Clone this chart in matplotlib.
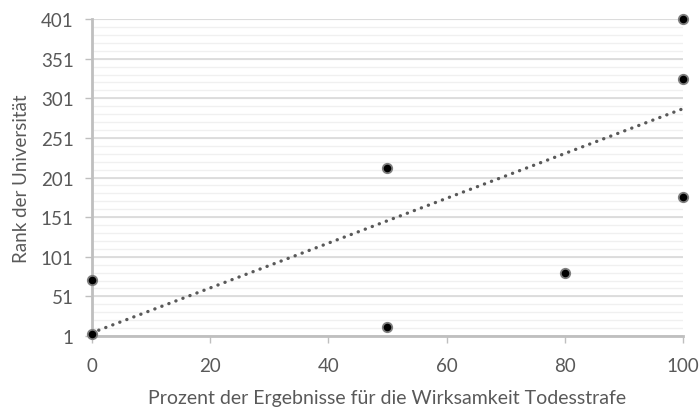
import numpy as np
import matplotlib.pyplot as plt

plt.rcParams['font.family'] = ['Lato', 'DejaVu Sans']

# data
prozent = [0, 0, 50, 50, 80, 100, 100, 100]
rang = [4, 72, 213, 12, 80, 401, 325, 176]
trend_intercept = 5.0
trend_slope = 2.83

x_ticks = [0, 20, 40, 60, 80, 100]
y_ticks = [1, 51, 101, 151, 201, 251, 301, 351, 401]

fig = plt.figure(figsize=(7, 4.1), dpi=100)
ax = fig.add_axes([0.131, 0.178, 0.845, 0.773])

# minor grid every 10, major every 50
for v in np.arange(1, 402, 10):
    ax.axhline(v, color='#f0f0f0', lw=1, zorder=0)
for v in y_ticks:
    ax.axhline(v, color='#d9d9d9', lw=1.2, zorder=1)

tx = np.array([0, 100])
ax.plot(tx, trend_intercept + trend_slope * tx, color='#595959', lw=2.4,
        linestyle=(0, (0.05, 2.2)), dash_capstyle='round', zorder=2)

ax.scatter(prozent, rang, s=46, c='black', edgecolors='#7f7f7f', linewidths=1.3,
           zorder=3, clip_on=False)

ax.set_xlim(0, 100)
ax.set_ylim(1, 401)
ax.set_xticks(x_ticks)
ax.set_yticks(y_ticks)

for s in ['top', 'right']:
    ax.spines[s].set_visible(False)
for s in ['left', 'bottom']:
    ax.spines[s].set_color('#bfbfbf')
    ax.spines[s].set_linewidth(2)

ax.tick_params(axis='both', colors='#bfbfbf', labelcolor='#595959', labelsize=13.5,
               length=5, width=1)
ax.tick_params(axis='x', pad=10)
ax.tick_params(axis='y', pad=8)

ax.set_xlabel('Prozent der Ergebnisse für die Wirksamkeit Todesstrafe',
              color='#595959', fontsize=14, labelpad=11)
ax.set_ylabel('Rank der Universität', color='#595959', fontsize=13.5, labelpad=8)

fig.savefig('out.png', dpi=100)
